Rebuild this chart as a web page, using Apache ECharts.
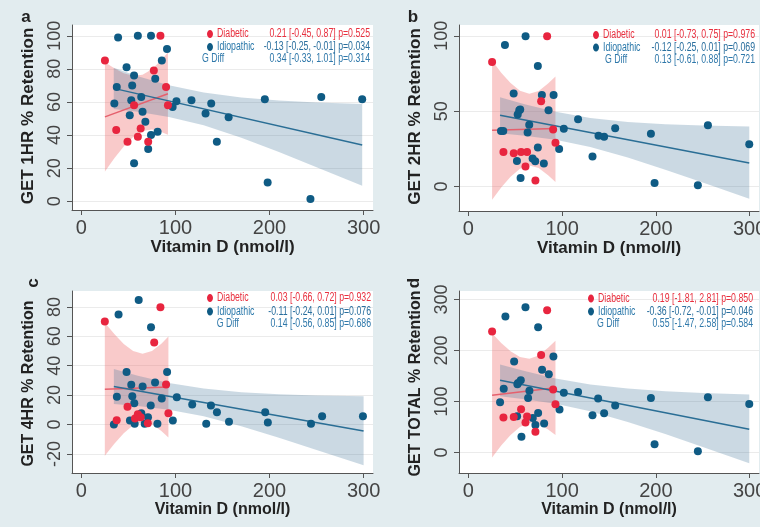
<!DOCTYPE html>
<html><head><meta charset="utf-8">
<script src="https://cdn.jsdelivr.net/npm/echarts@6.0.0/dist/echarts.min.js"></script>
<style>html,body{margin:0;padding:0;background:#e2ecef;} #c{width:760px;height:527px;}</style>
</head><body><div id="c"></div>
<script>
// ---------- data ----------
const xTicks = [0, 100, 200, 300];
const yTicksA = [0, 20, 40, 60, 80, 100];
const yTicksB = [0, 50, 100];
const yTicksC = [-20, 0, 20, 40, 60, 80];
const yTicksD = [0, 100, 200, 300];

const yNames = ['GET 1HR % Retention', 'GET 2HR % Retention', 'GET 4HR % Retention', 'GET TOTAL % Retention'];
const xName = 'Vitamin D (nmol/l)';
const panelLetters = ['a', 'b', 'c', 'd'];
const groupNames = ['Diabetic', 'Idiopathic', 'G Diff'];

const statsA = ['0.21 [-0.45, 0.87] p=0.525', '-0.13 [-0.25, -0.01] p=0.034', '0.34 [-0.33, 1.01] p=0.314'];
const statsB = ['0.01 [-0.73, 0.75] p=0.976', '-0.12 [-0.25, 0.01] p=0.069', '0.13 [-0.61, 0.88] p=0.721'];
const statsC = ['0.03 [-0.66, 0.72] p=0.932', '-0.11 [-0.24, 0.01] p=0.076', '0.14 [-0.56, 0.85] p=0.686'];
const statsD = ['0.19 [-1.81, 2.81] p=0.850', '-0.36 [-0.72, -0.01] p=0.046', '0.55 [-1.47, 2.58] p=0.584'];

// panel a
const diabA = [[25,85],[84,100],[77,79],[90,69],[92,58],[56,58],[37,43],[63,44],[60,39],[49,36],[71,36]];
const idioA = [[39,99],[60,100],[74,100],[91,92],[85.5,85],[48,81],[56,76],[78.5,74],[37.6,69],[54,70],[63.6,63],[35,59],[53,61],[65,54],[51.4,52],[68,48],[81,42],[74,40],[71,31.6],[56,23],[101,60.4],[97,57],[117,61],[138,59],[132,53],[156.5,50.7],[144,36],[195,61.6],[198,11.3],[243.5,1.4],[255,63],[298.5,61.6]];
const fitDiabA = [[25,51],[92,65]];
const fitIdioA = [[34.4,68.2],[298.5,34]];
const ciDiabA = [[25,18,84],[35,25.9,80.3],[45,33,77.4],[55,38.8,75.8],[65,42.4,76.4],[75,43.3,79.7],[85,41.9,85.3],[92,40.1,90.1]];
const ciIdioA = [[34.4,55.7,80.7],[60,54,75.6],[93,50.9,70.1],[130,45.9,65.7],[170,38.3,62.7],[210,29.7,60.9],[250,20.6,59.6],[298.5,9.3,58.7]];

// panel b
const diabB = [[25.3,82.7],[84,99.8],[77.6,56.6],[90.4,37.8],[92.9,29],[37.4,23],[48.4,22.1],[56.2,23],[62.6,23],[60.9,13.3],[71.5,4]];
const idioB = [[39,94],[61,99.7],[74.1,80],[48.3,61.7],[78.4,60.8],[90.9,60.8],[54.3,50.6],[55.3,51.1],[52.6,47.8],[85.5,50.6],[64.9,41.1],[63.2,35.8],[34.8,36.9],[37.2,36.9],[74.1,25.9],[96.8,24.9],[51.8,17],[68.5,18.6],[71.3,16.8],[80.5,15.3],[55.7,5.7],[101.8,38.3],[117,44.7],[138.8,33.8],[144.8,33],[132.4,19.9],[156.6,38.7],[194.7,35],[198.6,2.4],[244.8,0.9],[255.5,40.7],[299.6,28.1]];
const fitDiabB = [[25.3,37.4],[92.9,38.5]];
const fitIdioB = [[33.8,47.3],[299.6,15.7]];
const ciDiabB = [[25.3,-8.8,83.6],[35,-0.6,75.6],[45,6.5,68.7],[55,11.8,63.6],[65,14,61.6],[75,12.4,63.4],[85,7.6,68.4],[92.9,3.1,73.1]];
const ciIdioB = [[33.8,35.3,59.3],[60,33.7,54.7],[93,31,49.6],[130,26.3,45.5],[170,19.3,42.9],[210,11.2,41.4],[250,2.7,40.5],[299.6,-8.1,39.9]];

// panel c
const diabC = [[24.9,70],[84,79.8],[77.4,55.8],[90,27.2],[92.5,7.7],[37.5,2.8],[49,12.1],[57,4],[60,7],[63,5],[70.6,0.8]];
const idioC = [[60.9,84.7],[39.5,74.8],[74,66.2],[48,35.7],[91.1,35.7],[78.3,28.5],[53,27.1],[65.1,25.8],[54.1,19.2],[37.7,18.8],[85.4,17.6],[56.2,14.5],[73.7,12.9],[63.7,7.7],[70.8,5],[51.6,2.7],[34.5,0],[56.6,0.5],[67.3,0.5],[80.8,0.5],[97.2,2.7],[101.4,18.5],[117.8,13.6],[137.7,12.9],[144.1,8.4],[132.7,0.5],[156.9,1.8],[195.4,8.4],[198.2,1.4],[244.1,0.5],[255.9,5.6],[299.3,5.6]];
const fitDiabC = [[24.9,24],[92.5,25.5]];
const fitIdioC = [[34.5,25.8],[300,-4.5]];
const ciDiabC = [[24.9,-21.2,69.2],[35,-13.1,61.5],[45,-6,54.8],[55,-0.6,50],[65,1.6,48.2],[75,0.2,50],[85,-4.4,55],[92.5,-8.8,59.8]];
const ciIdioC = [[34.5,14,37.8],[60,12.6,33.2],[93,10,28.2],[130,5.6,24.4],[170,-1.2,22],[210,-9,20.6],[250,-17.3,19.7],[300,-27.8,19.2]];

// panel d
const diabD = [[25.3,237.4],[84,279],[77.6,191],[90.4,123.3],[92.9,94.6],[37.4,68.5],[48.4,69.8],[56.2,84.8],[62.6,70.4],[60.9,58.7],[71.5,40.4]];
const idioD = [[39.5,266.7],[60.9,285],[74.4,245.9],[48.8,178.7],[90.7,188.5],[78.6,162.4],[85.8,153.3],[55.9,141.5],[53,136.3],[52.3,133.7],[65.1,121.3],[37.7,125.2],[33.8,98.5],[63.7,107],[74.4,77.6],[52,71.1],[68.7,67.8],[71.5,54.1],[80.8,56.7],[56.6,30.7],[97.2,84.1],[101.8,117.4],[117,118.7],[138.4,105.7],[132.4,73],[144.8,77],[156.6,92],[194.7,107],[198.6,16.3],[244.8,2.6],[255.5,108.3],[299.6,95.2]];
const fitDiabD = [[25.3,112.2],[92.9,127.2]];
const fitIdioD = [[33.8,141.5],[299.6,45.7]];
const ciDiabD = [[25.3,-10.1,234.1],[35,13.6,214.8],[45,34.3,198.5],[55,50.1,187.1],[65,57.9,183.7],[75,55.7,190.3],[85,44.9,205.5],[92.9,34.2,219.2]];
const ciIdioD = [[33.8,110.4,172.4],[60,104.6,159.6],[93,95.4,145],[130,80.7,133.1],[170,59.6,125.4],[210,36,120.2],[250,10.7,116.7],[299.6,-21,113.8]];

// ---------- layout / style ----------
const RED = '#e8253f', BLUE = '#0f5b84';
const RED_LINE = '#e5606d', BLUE_LINE = '#2a6e95';
const RED_BAND = 'rgba(238,115,115,0.38)', BLUE_BAND = 'rgba(70,120,155,0.28)';

const panels = [
  {grid:{left:72, top:25, width:301, height:185}, ymin:-5.3, ymax:106.5, ticks:yTicksA, diab:diabA, idio:idioA, fd:fitDiabA, fi:fitIdioA, cd:ciDiabA, ci:ciIdioA, stats:statsA, tfs:17, ypad:[0,0,0,3]},
  {grid:{left:459, top:25, width:300, height:186}, ymin:-16.2, ymax:107.2, ticks:yTicksB, diab:diabB, idio:idioB, fd:fitDiabB, fi:fitIdioB, cd:ciDiabB, ci:ciIdioB, stats:statsB, tfs:17, ypad:[0,0,0,3]},
  {grid:{left:72, top:291, width:301, height:182}, ymin:-33, ymax:90.8, ticks:yTicksC, diab:diabC, idio:idioC, fd:fitDiabC, fi:fitIdioC, cd:ciDiabC, ci:ciIdioC, stats:statsC, tfs:16, ypad:[0,3,0,0]},
  {grid:{left:459, top:291, width:300, height:182}, ymin:-40.3, ymax:316.8, ticks:yTicksD, diab:diabD, idio:idioD, fd:fitDiabD, fi:fitIdioD, cd:ciDiabD, ci:ciIdioD, stats:statsD, tfs:16, ypad:[0,3,0,0]}
];

const FONT = 'Liberation Sans, Arial, sans-serif';
const grids = [], xAxes = [], yAxes = [], series = [], graphics = [];

function bandSeries(band, color, gi) {
  return {
    type: 'custom', xAxisIndex: gi, yAxisIndex: gi, silent: true, z: 1,
    data: band.map(b => [b[0], b[1], b[2]]),
    encode: {x: 0, y: [1, 2]},
    renderItem: function (params, api) {
      if (params.dataIndex !== 0) return null;
      const pts = [];
      for (let i = 0; i < band.length; i++) pts.push(api.coord([band[i][0], band[i][2]]));
      for (let i = band.length - 1; i >= 0; i--) pts.push(api.coord([band[i][0], band[i][1]]));
      return {type: 'polygon', shape: {points: pts}, style: {fill: color}};
    }
  };
}

panels.forEach((p, i) => {
  grids.push(Object.assign({show: true, backgroundColor: '#ffffff', borderWidth: 0, containLabel: false, outerBoundsMode: 'none'}, p.grid));
  xAxes.push({
    type: 'value', gridIndex: i, min: -10, max: 310,
    name: xName, nameLocation: 'middle', nameGap: 29,
    nameTextStyle: {fontFamily: FONT, fontWeight: 'bold', fontSize: p.tfs, color: '#222'},
    axisLine: {show: true, onZero: false, lineStyle: {color: '#555', width: 1}},
    axisTick: {show: true, length: 5, customValues: xTicks, lineStyle: {color: '#555'}},
    axisLabel: {customValues: xTicks, fontFamily: FONT, fontSize: 20, color: '#444', margin: 8},
    splitLine: {show: false}
  });
  yAxes.push({
    type: 'value', gridIndex: i, min: p.ymin, max: p.ymax,
    name: yNames[i], nameLocation: 'middle', nameGap: 35,
    nameTextStyle: {fontFamily: FONT, fontWeight: 'bold', fontSize: p.tfs, color: '#222', padding: p.ypad},
    axisLine: {show: true, onZero: false, lineStyle: {color: '#555', width: 1}},
    axisTick: {show: true, length: 5, customValues: p.ticks, lineStyle: {color: '#555'}},
    axisLabel: {customValues: p.ticks, rotate: 90, fontFamily: FONT, fontSize: 18, color: '#444', margin: 8},
    splitLine: {show: true, lineStyle: {color: '#ebebeb', width: 1}}
  });
  series.push(bandSeries(p.cd, RED_BAND, i));
  series.push(bandSeries(p.ci, BLUE_BAND, i));
  series.push({type: 'line', xAxisIndex: i, yAxisIndex: i, data: p.fd, symbol: 'none', z: 3, silent: true, lineStyle: {color: RED_LINE, width: 1.5}});
  series.push({type: 'line', xAxisIndex: i, yAxisIndex: i, data: p.fi, symbol: 'none', z: 3, silent: true, lineStyle: {color: BLUE_LINE, width: 1.5}});
  series.push({type: 'scatter', xAxisIndex: i, yAxisIndex: i, data: p.idio, symbolSize: 8, z: 4, itemStyle: {color: BLUE, opacity: 1}});
  series.push({type: 'scatter', xAxisIndex: i, yAxisIndex: i, data: p.diab, symbolSize: 8, z: 4, itemStyle: {color: RED, opacity: 1}});
});

// legend-like stats boxes
const legendPos = [
  {dot: 210, lab: 217, gd: 202, right: 370, rows: [34, 47, 59]},
  {dot: 596, lab: 603, gd: 605, right: 755, rows: [35, 47.5, 59.5]},
  {dot: 210, lab: 217, gd: 216.7, right: 371, rows: [298, 311.5, 323.5]},
  {dot: 591, lab: 598, gd: 597, right: 753, rows: [298.5, 311.5, 323.5]}
];
const SFONT = '12.5px ' + FONT;
const SX = 0.7;
function stxt(x, y, text, fill, align) {
  return {type: 'text', x: x, y: y, scaleX: SX, scaleY: 1, z: 10,
    style: {text: text, font: SFONT, fill: fill, textAlign: align, textVerticalAlign: 'middle'}};
}
legendPos.forEach((L, i) => {
  const st = panels[i].stats;
  graphics.push({type: 'ellipse', shape: {cx: L.dot, cy: L.rows[0], rx: 3, ry: 4}, style: {fill: RED}, z: 10});
  graphics.push({type: 'ellipse', shape: {cx: L.dot, cy: L.rows[1], rx: 3, ry: 4}, style: {fill: BLUE}, z: 10});
  graphics.push(stxt(L.lab, L.rows[0], groupNames[0], '#e8303f', 'left'));
  graphics.push(stxt(L.lab, L.rows[1], groupNames[1], '#2a78aa', 'left'));
  graphics.push(stxt(L.gd, L.rows[2], groupNames[2], '#2f78aa', 'left'));
  graphics.push(stxt(L.right, L.rows[0], st[0], '#e8303f', 'right'));
  graphics.push(stxt(L.right, L.rows[1], st[1], '#2a6f9e', 'right'));
  graphics.push(stxt(L.right, L.rows[2], st[2], '#2f78aa', 'right'));
});

// panel letters
graphics.push({type: 'text', x: 26, y: 17, style: {text: panelLetters[0], font: 'bold 17px ' + FONT, fill: '#222', textAlign: 'center', textVerticalAlign: 'middle'}, z: 10});
graphics.push({type: 'text', x: 413, y: 17, style: {text: panelLetters[1], font: 'bold 17px ' + FONT, fill: '#222', textAlign: 'center', textVerticalAlign: 'middle'}, z: 10});
graphics.push({type: 'text', x: 33, y: 283, rotation: Math.PI / 2, style: {text: panelLetters[2], font: 'bold 17px ' + FONT, fill: '#222', textAlign: 'center', textVerticalAlign: 'middle'}, z: 10});
graphics.push({type: 'text', x: 414, y: 283, rotation: Math.PI / 2, style: {text: panelLetters[3], font: 'bold 17px ' + FONT, fill: '#222', textAlign: 'center', textVerticalAlign: 'middle'}, z: 10});

const chart = echarts.init(document.getElementById('c'), null, {renderer: 'canvas'});
chart.setOption({
  backgroundColor: '#e2ecef',
  animation: false,
  grid: grids, xAxis: xAxes, yAxis: yAxes, series: series, graphic: graphics
});
</script></body></html>
